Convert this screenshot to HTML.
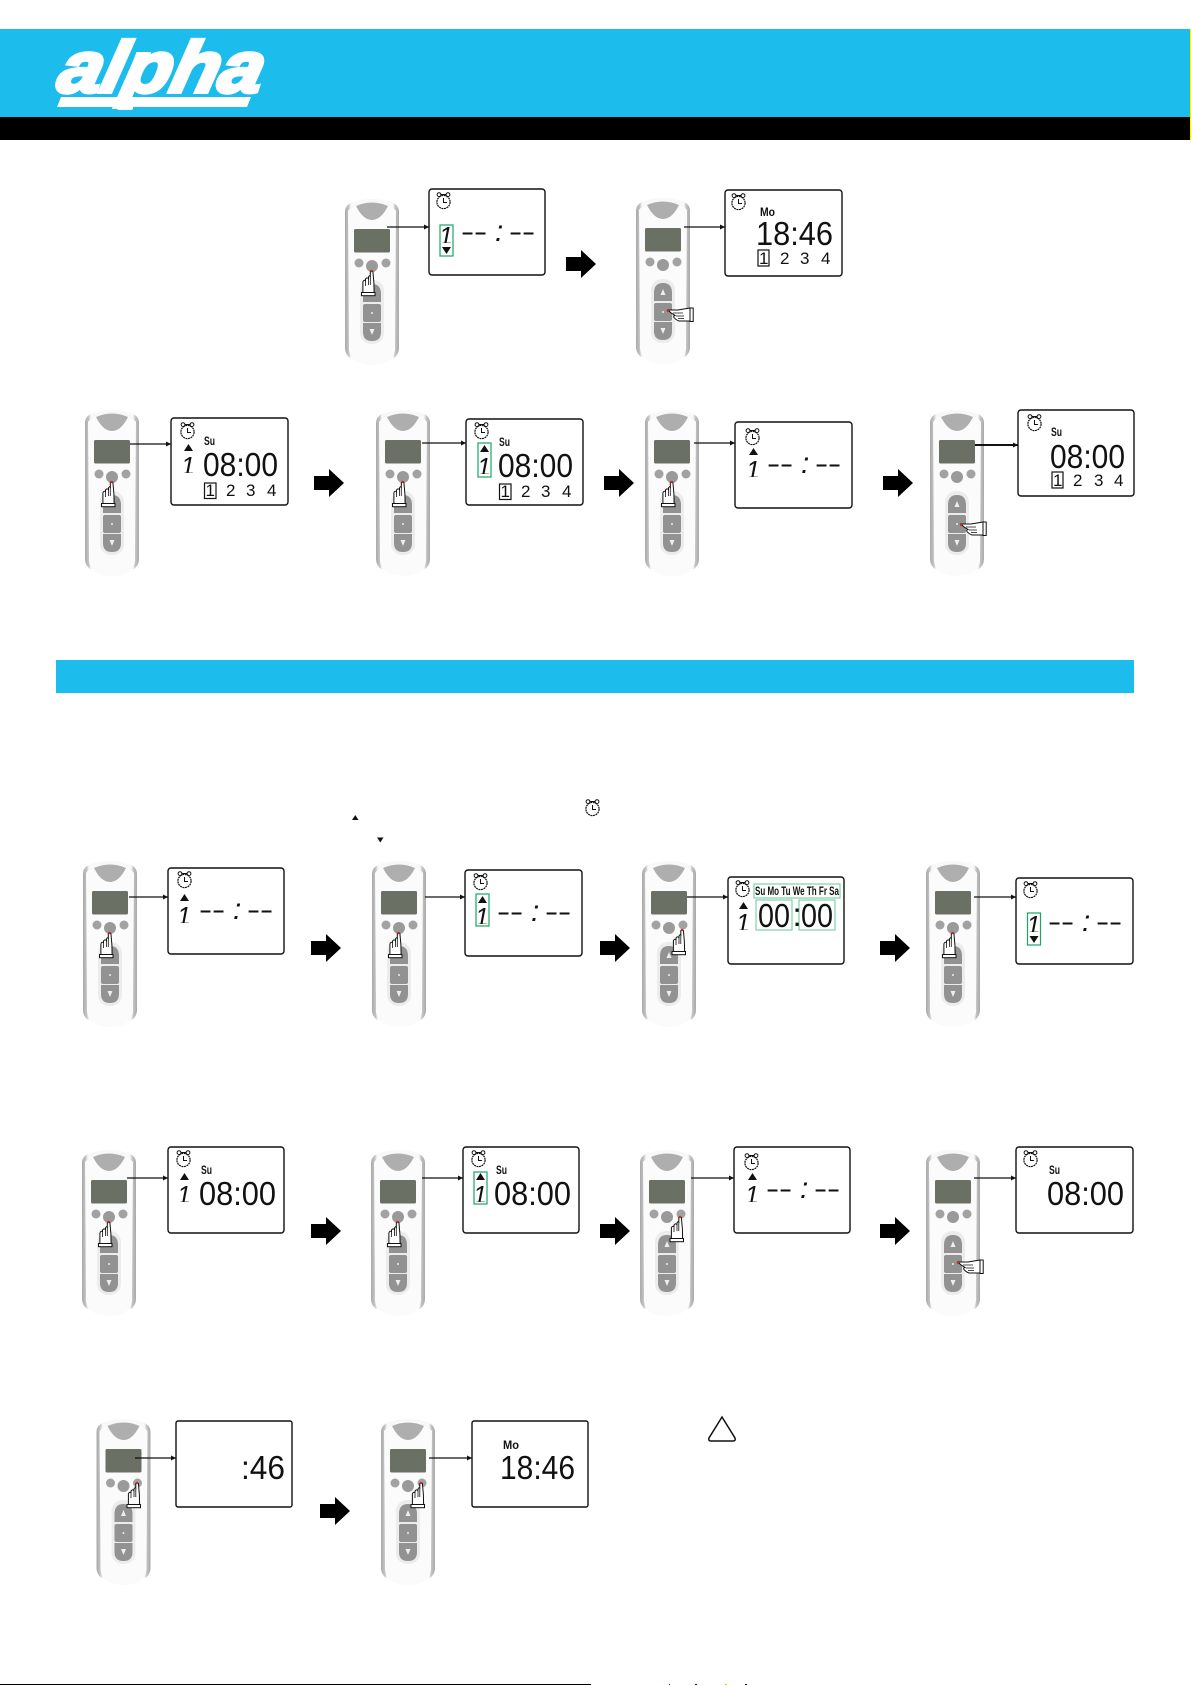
<!DOCTYPE html>
<html><head><meta charset="utf-8"><title>alpha</title>
<style>
html,body{margin:0;padding:0;background:#fff}
svg{display:block}
text{font-family:"Liberation Sans",sans-serif;fill:#111}
.f{fill:#fff;stroke:#111;stroke-width:1.4}
.g{fill:none;stroke:#17a862;stroke-width:1.2}
.lg{fill:none;stroke:#7fd3ac;stroke-width:1.2}
.d{font-size:33px}
.n{font-size:25px;font-style:italic;transform:translateY(1.6px);clip-path:inset(0 0 27% 25%)}
.s{font-size:12px;font-weight:700}
.t{font-size:17px}
.da{font-size:20px;font-weight:700;transform:translateY(1.2px)}
.co{font-size:30px;font-style:italic}
.l{stroke:#111;stroke-width:1.2;fill:none}
</style></head><body>
<svg xmlns="http://www.w3.org/2000/svg" width="1191" height="1685" viewBox="0 0 1191 1685">
<defs>
<linearGradient id="bg" x1="0" x2="1" y1="0" y2="0"><stop offset="0" stop-color="#a9a9a9"/><stop offset=".07" stop-color="#c4c4c4"/><stop offset=".11" stop-color="#f8f8f8"/><stop offset=".89" stop-color="#f8f8f8"/><stop offset=".93" stop-color="#c4c4c4"/><stop offset="1" stop-color="#a9a9a9"/></linearGradient>
<g id="r">
<path d="M0 14Q0 7 8 4Q27 -2 46 4Q54 7 54 14L54 150Q54 156 49 160L5 160Q0 156 0 150Z" fill="url(#bg)"/>
<path d="M3 13Q8 6 27 4Q46 6 51 13L50 148Q51 158 42 164Q27 170 12 164Q3 158 4 148Z" fill="#fbfbfb"/>
<path d="M11 8Q27 1 43 8Q36 22 27 22Q18 22 11 8Z" fill="#aeaeae"/>
<rect x="9" y="31" width="36" height="23.500" rx="1.500" fill="#6b7065"/>
<circle cx="14" cy="65" r="4.500" fill="#a2a2a2"/><circle cx="27" cy="68" r="6" fill="#9a9a9a"/><circle cx="41" cy="65" r="4.500" fill="#a2a2a2"/>
<rect x="15" y="82" width="24" height="64" rx="11" fill="#ececec"/>
<path d="M18 104V96Q18 86 27 86Q36 86 36 96V104Z" fill="#929292"/>
<rect x="18" y="106" width="18" height="18" rx="2" fill="#929292"/>
<path d="M18 125H36V134Q36 143 27 143Q18 143 18 134Z" fill="#929292"/>
<path d="M27 92l2.500 6h-5zM27 137l2.500-6h-5z" fill="#eee"/><circle cx="27" cy="115" r="1" fill="#eee"/>
</g>
<g id="hv">
<path d="M-8.600 21.500L-8.600 11Q-8 8.500-6 9.500L-6 8Q-4.500 6-3 7.500L-3 6Q-2 4-1.200 5L-1.200 0.500Q0 -1 1.400 0.500L2.400 12L2.600 21.500Z" fill="#fff" stroke="#111" stroke-width="1"/>
<path d="M-6 9.500V15M-3 7.500V14M-1.200 5V14" stroke="#111" stroke-width=".8" fill="none"/>
<rect x="-10" y="21.500" width="13.500" height="3.200" fill="#fff" stroke="#111" stroke-width="1"/>
<circle cx="0" cy="0" r="1.200" fill="#d8232a"/>
</g>
<g id="hh">
<path d="M0 -1L10 -1L22 -3L22 10L11 10Q8 9 6 6.500Q5 5 7 4.500Q3 2 2 1Z" fill="#fff" stroke="#111" stroke-width="1"/>
<path d="M5 2H15M8 5H16M10 7.500H16" stroke="#111" stroke-width=".8" fill="none"/>
<rect x="22" y="-3" width="3.200" height="13.500" fill="#fff" stroke="#111" stroke-width="1"/>
<circle cx="0" cy="0" r="1.200" fill="#d8232a"/>
</g>
<path id="a" d="M0 7H15V0L30 14L15 28V21H0Z" fill="#000"/>
<g id="c" fill="none" stroke="#111">
<circle cx="7.500" cy="10" r="6.600" stroke-width="1.200" stroke-dasharray="2 .6"/>
<circle cx="3" cy="2.600" r="1.900" stroke-width="1"/><circle cx="12" cy="2.600" r="1.900" stroke-width="1"/>
<path d="M5 2.500H10M7.500 6V10.500H11" stroke-width="1"/>
</g>
<marker id="m" markerWidth="6" markerHeight="6" refX="5" refY="2.500" orient="auto" markerUnits="userSpaceOnUse"><path d="M0 0L5 2.500L0 5Z" fill="#111"/></marker>
</defs>

<!-- header -->
<rect x="0" y="29" width="1190" height="88" fill="#1cbcec"/>
<rect x="0" y="117" width="1190" height="23" fill="#000"/>
<rect x="1190" y="29" width="1" height="111" fill="#fff200"/>
<polygon points="57,107 61,97 251,97 247,107" fill="#fff"/>
<g transform="translate(55,92) skewX(-13)">
<text x="0" y="0" font-size="72" font-weight="700" font-style="italic" textLength="204" lengthAdjust="spacingAndGlyphs" style="fill:#fff;stroke:#fff;stroke-width:4">alpha</text>
</g>
<rect x="117" y="104" width="16" height="6" rx="2" fill="#fff"/>

<!-- section bar -->
<rect x="56" y="660" width="1078" height="33" fill="#1cbcec"/>

<!-- inline symbols -->
<use href="#c" x="585" y="799"/>
<path d="M352 820h6.500l-3.200-5z" fill="#111"/>
<path d="M377 837.500h6.500l-3.200 5z" fill="#111"/>

<!-- ROW 1 -->
<use href="#r" x="345" y="198"/><use href="#hv" x="371.500" y="271"/>
<path class="l" d="M387 227H429" marker-end="url(#m)"/>
<g transform="translate(429,189)"><rect class="f" width="116" height="86" rx="3"/><use href="#c" x="7" y="3"/>
<rect class="g" x="11" y="36" width="13" height="31"/><path d="M13 58h9l-4.500 7z" fill="#111"/>
<text class="n" x="10" y="54">1</text>
<text class="da" x="33 46" y="49">––</text><text class="co" x="66" y="52">:</text><text class="da" x="81 94" y="49">––</text></g>
<use href="#a" x="566" y="250"/>
<use href="#r" x="636" y="197"/><use href="#hh" x="668" y="311"/>
<path class="l" d="M684 227H725" marker-end="url(#m)"/>
<g transform="translate(725,190)"><rect class="f" width="117" height="86" rx="3"/><use href="#c" x="6" y="3"/>
<text class="s" x="35" y="26" textLength="15" lengthAdjust="spacingAndGlyphs">Mo</text>
<text class="d" x="31" y="55" textLength="77" lengthAdjust="spacingAndGlyphs">18:46</text>
<rect x="33" y="60" width="11" height="16" fill="none" stroke="#111" stroke-width="1.200"/>
<text class="t" x="34 55 75 96" y="74">1234</text></g>

<!-- ROW 2 -->
<use href="#r" x="85" y="409"/><use href="#hv" x="111.500" y="482"/>
<path class="l" d="M130 444H171" marker-end="url(#m)"/>
<g transform="translate(171,418)"><rect class="f" width="117" height="87" rx="3"/><use href="#c" x="9" y="4"/>
<text class="s" x="33" y="27" textLength="11" lengthAdjust="spacingAndGlyphs">Su</text>
<path d="M13 33h9l-4.500-7z" fill="#111"/><text class="n" x="10" y="55">1</text>
<text class="d" x="32" y="58" textLength="75" lengthAdjust="spacingAndGlyphs">08:00</text>
<rect x="33.500" y="65" width="11.500" height="15.500" fill="none" stroke="#111" stroke-width="1.200"/>
<text class="t" x="34.500 55 75 96" y="78">1234</text></g>
<use href="#a" x="314" y="469"/>
<use href="#r" x="376" y="409"/><use href="#hv" x="402.500" y="482"/>
<path class="l" d="M422 443H466" marker-end="url(#m)"/>
<g transform="translate(466,419)"><rect class="f" width="117" height="86" rx="3"/><use href="#c" x="8" y="3"/>
<text class="s" x="33" y="27" textLength="11" lengthAdjust="spacingAndGlyphs">Su</text>
<rect class="g" x="12" y="24" width="13" height="34"/>
<path d="M14 33h9l-4.500-7z" fill="#111"/><text class="n" x="11" y="55">1</text>
<text class="d" x="32" y="58" textLength="75" lengthAdjust="spacingAndGlyphs">08:00</text>
<rect x="33.500" y="65" width="11.500" height="15.500" fill="none" stroke="#111" stroke-width="1.200"/>
<text class="t" x="34.500 55 75 96" y="78">1234</text></g>
<use href="#a" x="604" y="469"/>
<use href="#r" x="645" y="409"/><use href="#hv" x="671.500" y="482"/>
<path class="l" d="M694 443H735" marker-end="url(#m)"/>
<g transform="translate(735,422)"><rect class="f" width="117" height="86" rx="3"/><use href="#c" x="10" y="6"/>
<path d="M14 33h9l-4.500-7z" fill="#111"/><text class="n" x="11" y="55">1</text>
<text class="da" x="33 46" y="48">––</text><text class="co" x="66" y="51">:</text><text class="da" x="81 94" y="48">––</text></g>
<use href="#a" x="883" y="469"/>
<use href="#r" x="930" y="409"/><use href="#hh" x="961" y="525"/>
<path class="l" d="M975 445H1018" style="stroke-width:2" marker-end="url(#m)"/>
<g transform="translate(1018,410)"><rect class="f" width="116" height="86" rx="3"/><use href="#c" x="9" y="4"/>
<text class="s" x="33" y="26" textLength="11" lengthAdjust="spacingAndGlyphs">Su</text>
<text class="d" x="32" y="58" textLength="75" lengthAdjust="spacingAndGlyphs">08:00</text>
<rect x="34" y="62" width="11" height="16" fill="none" stroke="#111" stroke-width="1.200"/>
<text class="t" x="35 55 76 96" y="76">1234</text></g>

<!-- ROW 3 -->
<use href="#r" x="83" y="860"/><use href="#hv" x="109.500" y="933"/>
<path class="l" d="M129 897H168" marker-end="url(#m)"/>
<g transform="translate(168,868)"><rect class="f" width="116" height="86" rx="3"/><use href="#c" x="9" y="3"/>
<path d="M12 33h9l-4.500-7z" fill="#111"/><text class="n" x="9" y="55">1</text>
<text class="da" x="32 45" y="48">––</text><text class="co" x="65" y="51">:</text><text class="da" x="80 93" y="48">––</text></g>
<use href="#a" x="311" y="934"/>
<use href="#r" x="372" y="860"/><use href="#hv" x="398.500" y="933"/>
<path class="l" d="M425 897H465" marker-end="url(#m)"/>
<g transform="translate(465,870)"><rect class="f" width="117" height="86" rx="3"/><use href="#c" x="8" y="3"/>
<rect class="g" x="11" y="24" width="13" height="32"/>
<path d="M13 33h9l-4.500-7z" fill="#111"/><text class="n" x="10" y="54">1</text>
<text class="da" x="33 46" y="48">––</text><text class="co" x="66" y="51">:</text><text class="da" x="81 94" y="48">––</text></g>
<use href="#a" x="600" y="934"/>
<use href="#r" x="642" y="860"/><use href="#hv" x="682" y="930"/>
<path class="l" d="M687 897H728" marker-end="url(#m)"/>
<g transform="translate(728,877)"><rect class="f" width="116" height="87" rx="3"/><use href="#c" x="7" y="3"/>
<rect class="lg" x="26" y="7" width="86" height="14"/>
<text class="s" x="27" y="18" textLength="84" lengthAdjust="spacingAndGlyphs">Su Mo Tu We Th Fr Sa</text>
<rect class="lg" x="28" y="23" width="36" height="30"/><rect class="lg" x="71" y="23" width="36" height="30"/>
<text class="d" x="30" y="50" textLength="32" lengthAdjust="spacingAndGlyphs">00</text>
<text class="d" x="64.500" y="49">:</text>
<text class="d" x="73" y="50" textLength="32" lengthAdjust="spacingAndGlyphs">00</text>
<path d="M11 32h9l-4.500-7z" fill="#111"/><text class="n" x="8" y="53">1</text></g>
<use href="#a" x="880" y="934"/>
<use href="#r" x="926" y="860"/><use href="#hv" x="952.500" y="933"/>
<path class="l" d="M974 897H1016" marker-end="url(#m)"/>
<g transform="translate(1016,878)"><rect class="f" width="117" height="86" rx="3"/><use href="#c" x="7" y="3"/>
<rect class="g" x="11.500" y="35" width="13" height="32"/><path d="M13.500 58h9l-4.500 7z" fill="#111"/>
<text class="n" x="10.500" y="54">1</text>
<text class="da" x="33 46" y="50">––</text><text class="co" x="66" y="53">:</text><text class="da" x="81 94" y="50">––</text></g>

<!-- ROW 4 -->
<use href="#r" x="82" y="1149"/><use href="#hv" x="108.500" y="1222"/>
<path class="l" d="M127 1178H168" marker-end="url(#m)"/>
<g transform="translate(168,1147)"><rect class="f" width="116" height="86" rx="3"/><use href="#c" x="8" y="3"/>
<text class="s" x="33" y="27" textLength="11" lengthAdjust="spacingAndGlyphs">Su</text>
<path d="M12 33h9l-4.500-7z" fill="#111"/><text class="n" x="9" y="55">1</text>
<text class="d" x="31" y="58" textLength="77" lengthAdjust="spacingAndGlyphs">08:00</text></g>
<use href="#a" x="311" y="1217"/>
<use href="#r" x="371" y="1149"/><use href="#hv" x="397.500" y="1222"/>
<path class="l" d="M422 1178H463" marker-end="url(#m)"/>
<g transform="translate(463,1147)"><rect class="f" width="116" height="86" rx="3"/><use href="#c" x="8" y="3"/>
<text class="s" x="33" y="27" textLength="11" lengthAdjust="spacingAndGlyphs">Su</text>
<rect class="g" x="11" y="25" width="13" height="32"/>
<path d="M13 33h9l-4.500-7z" fill="#111"/><text class="n" x="10" y="55">1</text>
<text class="d" x="31" y="58" textLength="77" lengthAdjust="spacingAndGlyphs">08:00</text></g>
<use href="#a" x="600" y="1217"/>
<use href="#r" x="640" y="1149"/><use href="#hv" x="680" y="1217"/>
<path class="l" d="M691 1178H734" marker-end="url(#m)"/>
<g transform="translate(734,1147)"><rect class="f" width="116" height="86" rx="3"/><use href="#c" x="10" y="6"/>
<path d="M14 33h9l-4.500-7z" fill="#111"/><text class="n" x="11" y="55">1</text>
<text class="da" x="33 46" y="48">––</text><text class="co" x="66" y="51">:</text><text class="da" x="81 94" y="48">––</text></g>
<use href="#a" x="880" y="1217"/>
<use href="#r" x="926" y="1149"/><use href="#hh" x="958" y="1263"/>
<path class="l" d="M974 1178H1016" marker-end="url(#m)"/>
<g transform="translate(1016,1147)"><rect class="f" width="117" height="86" rx="3"/><use href="#c" x="7" y="3"/>
<text class="s" x="33" y="27" textLength="11" lengthAdjust="spacingAndGlyphs">Su</text>
<text class="d" x="31" y="58" textLength="77" lengthAdjust="spacingAndGlyphs">08:00</text></g>

<!-- ROW 5 -->
<use href="#r" x="96.500" y="1418"/><use href="#hv" x="137" y="1483"/>
<path class="l" d="M135 1458H176" marker-end="url(#m)"/>
<g transform="translate(176,1421)"><rect class="f" width="116" height="86" rx="2"/>
<text class="d" x="65" y="58" textLength="44" lengthAdjust="spacingAndGlyphs">:46</text></g>
<use href="#a" x="320" y="1497"/>
<use href="#r" x="381" y="1418"/><use href="#hv" x="421" y="1483"/>
<path class="l" d="M429 1458H472" marker-end="url(#m)"/>
<g transform="translate(472,1421)"><rect class="f" width="116" height="86" rx="2"/>
<text class="s" x="31" y="28" textLength="16" lengthAdjust="spacingAndGlyphs">Mo</text>
<text class="d" x="28" y="58" textLength="75" lengthAdjust="spacingAndGlyphs">18:46</text></g>

<!-- warning triangle -->
<path d="M722 1417L735 1438Q736 1441 733 1441H711Q708 1441 709 1438Z" fill="#fff" stroke="#111" stroke-width="1.500"/>

<!-- footer -->
<rect x="0" y="1684" width="591" height="1" fill="#000"/>
<rect x="669" y="1684" width="1" height="1" fill="#2030d0"/><rect x="695" y="1684" width="2" height="1" fill="#111"/><rect x="725" y="1684" width="2" height="1" fill="#d0c020"/><rect x="745" y="1684" width="2" height="1" fill="#111"/>
</svg>
</body></html>
